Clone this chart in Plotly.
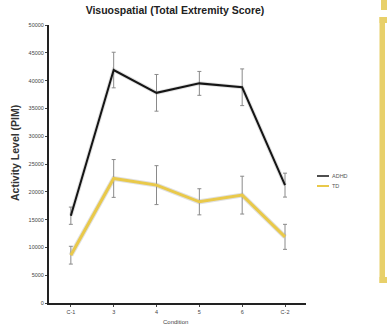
import plotly.graph_objects as go

categories = ["C-1", "3", "4", "5", "6", "C-2"]
adhd_values = [15700, 41900, 37800, 39500, 38800, 21200]
adhd_errors = [1550, 3200, 3300, 2150, 3300, 2150]
td_values = [8600, 22400, 21200, 18200, 19400, 11900]
td_errors = [1600, 3400, 3500, 2350, 3400, 2250]
y_ticks = [0, 5000, 10000, 15000, 20000, 25000, 30000, 35000, 40000, 45000, 50000]
series_names = ["ADHD", "TD"]

BLACK = "#151515"
YELLOW = "#E9C94A"
ERR = "#8a8a8a"
x_idx = list(range(len(categories)))

fig = go.Figure()
# soft shadows
fig.add_trace(go.Scatter(x=x_idx, y=td_values, mode="lines",
                         line=dict(color="rgba(0,0,0,0.12)", width=5),
                         showlegend=False, hoverinfo="skip"))
fig.add_trace(go.Scatter(x=x_idx, y=adhd_values, mode="lines",
                         line=dict(color="rgba(0,0,0,0.12)", width=4),
                         showlegend=False, hoverinfo="skip"))
fig.add_trace(go.Scatter(
    x=x_idx, y=td_values, mode="lines", name=series_names[1],
    line=dict(color=YELLOW, width=3),
    error_y=dict(type="data", array=td_errors, color=ERR, thickness=1, width=2),
    showlegend=False))
fig.add_trace(go.Scatter(
    x=x_idx, y=adhd_values, mode="lines", name=series_names[0],
    line=dict(color=BLACK, width=2),
    error_y=dict(type="data", array=adhd_errors, color=ERR, thickness=1, width=2),
    showlegend=False))

L, R, T, B = 49, 81, 25, 24
W, H = 387, 327
pw, ph = W - L - R, H - T - B

def px(x):
    return (x - L) / pw

def py(y):
    return (H - B - y) / ph

shapes = []
annotations = []
# manual legend
for name, color, yy, wd in [(series_names[0], BLACK, 176, 1.5), (series_names[1], YELLOW, 186, 2)]:
    shapes.append(dict(type="line", xref="paper", yref="paper",
                       x0=px(317), x1=px(329), y0=py(yy), y1=py(yy),
                       line=dict(color=color, width=wd)))
    annotations.append(dict(text=name, xref="paper", yref="paper", x=px(330), y=py(yy),
                            xanchor="left", yanchor="middle", showarrow=False,
                            font=dict(size=5.5, color="#555555", family="Liberation Sans")))
# yellow frame at right
FRAME = "#E8D06A"
shapes.append(dict(type="rect", xref="paper", yref="paper",
                   x0=px(379.5), x1=px(385), y0=py(17), y1=py(283),
                   line=dict(width=0), fillcolor=FRAME))
shapes.append(dict(type="rect", xref="paper", yref="paper",
                   x0=px(379.5), x1=px(387), y0=py(17), y1=py(23),
                   line=dict(width=0), fillcolor=FRAME))
shapes.append(dict(type="rect", xref="paper", yref="paper",
                   x0=px(379.5), x1=px(387), y0=py(277), y1=py(283),
                   line=dict(width=0), fillcolor=FRAME))
shapes.append(dict(type="rect", xref="paper", yref="paper",
                   x0=px(381), x1=px(387), y0=py(0), y1=py(10),
                   line=dict(width=0), fillcolor=FRAME))
# y-axis title
annotations.append(dict(text="<b>Activity Level (PIM)</b>", xref="paper", yref="paper",
                        x=px(15), y=py(153), textangle=-90, xanchor="center", yanchor="middle",
                        showarrow=False,
                        font=dict(size=10.5, color="#333333", family="Liberation Sans")))
# x-axis title near the bottom edge
annotations.append(dict(text="Condition", xref="paper", yref="paper", x=px(175), y=py(327),
                        xanchor="center", yanchor="bottom", showarrow=False,
                        font=dict(size=6, color="#444444", family="Liberation Sans")))

fig.update_layout(
    width=W, height=H,
    margin=dict(l=L, r=R, t=T, b=B),
    paper_bgcolor="white", plot_bgcolor="white",
    title=dict(text="<b>Visuospatial (Total Extremity Score)</b>", x=175 / W, xanchor="center",
               y=1 - 10 / H, yanchor="middle",
               font=dict(size=10.5, color="#222222", family="Liberation Sans Narrow, Liberation Sans")),
    shapes=shapes, annotations=annotations,
    xaxis=dict(range=[-0.51, 5.49], tickmode="array", tickvals=x_idx, ticktext=categories,
               showgrid=False, zeroline=False, showline=True, linecolor="#222222", linewidth=2,
               ticks="outside", ticklen=2, tickcolor="#444444",
               tickfont=dict(size=5.5, color="#444444", family="Liberation Sans")),
    yaxis=dict(range=[0, 50000], tickmode="array", tickvals=y_ticks,
               ticktext=[str(v) for v in y_ticks],
               showgrid=False, zeroline=False, showline=True, linecolor="#222222", linewidth=2,
               ticks="outside", ticklen=2, tickcolor="#444444",
               tickfont=dict(size=5.5, color="#444444", family="Liberation Sans")),
)

fig.write_html("out.html", config={"displayModeBar": False},
               post_script="document.body.style.margin='0';document.body.style.overflow='hidden';")
